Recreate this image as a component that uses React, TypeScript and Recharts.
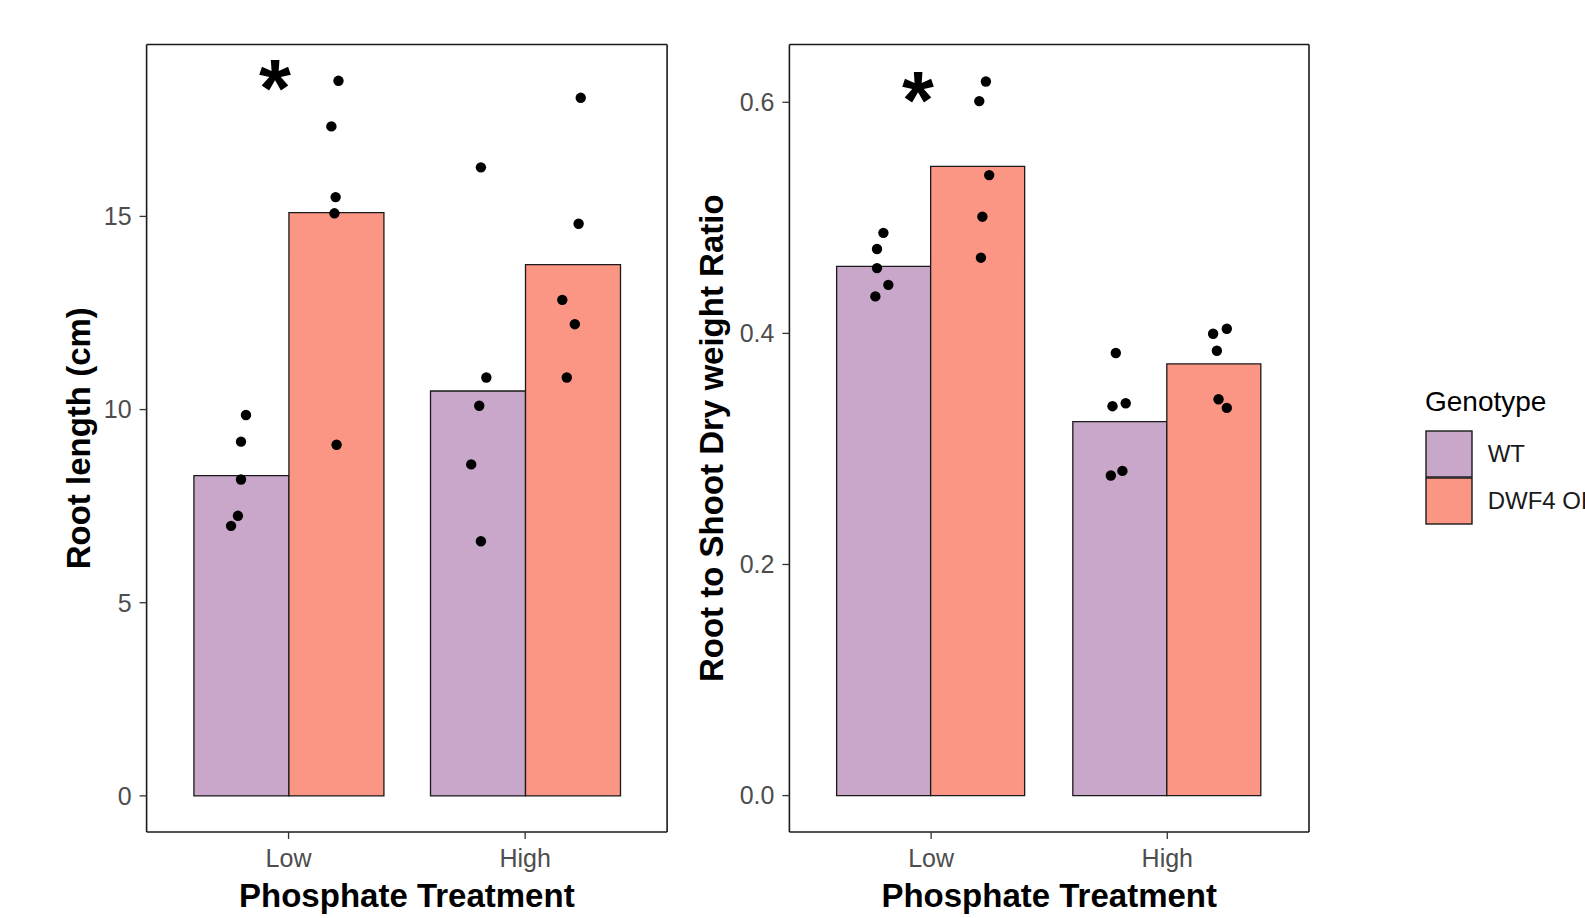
import React from 'react';
import { ComposedChart, Bar, Scatter, XAxis, YAxis, Label } from 'recharts';

const FONT = '"Liberation Sans", Arial, Helvetica, sans-serif';

// ---------- categories ----------
const treatments = ['Low', 'High'];
const genotypes = ['WT', 'DWF4 OE'];
const genotypeColors = ['#C9A7CB', '#FB9584'];

// ---------- bar heights (means) ----------
const rootMeanWT = [8.29, 10.48];
const rootMeanOE = [15.1, 13.75];
const ratioMeanWT = [0.458, 0.3237];
const ratioMeanOE = [0.5445, 0.3737];

// ---------- individual points (value, horizontal jitter in category units) ----------
const rootLowWT = [9.86, 9.17, 8.19, 7.25, 6.99];
const rootLowWTJit = [-0.18, -0.201, -0.201, -0.214, -0.243];
const rootLowOE = [18.51, 17.33, 15.5, 15.08, 9.09];
const rootLowOEJit = [0.211, 0.181, 0.199, 0.194, 0.203];
const rootHighWT = [16.27, 10.83, 10.1, 8.58, 6.59];
const rootHighWTJit = [-0.187, -0.164, -0.194, -0.228, -0.187];
const rootHighOE = [18.07, 14.81, 12.84, 12.21, 10.83];
const rootHighOEJit = [0.235, 0.226, 0.157, 0.21, 0.176];

const ratioLowWT = [0.487, 0.473, 0.4565, 0.442, 0.432];
const ratioLowWTJit = [-0.202, -0.229, -0.229, -0.181, -0.236];
const ratioLowOE = [0.618, 0.601, 0.537, 0.501, 0.4655];
const ratioLowOEJit = [0.232, 0.204, 0.246, 0.217, 0.211];
const ratioHighWT = [0.383, 0.337, 0.3395, 0.277, 0.281];
const ratioHighWTJit = [-0.218, -0.232, -0.176, -0.239, -0.19];
const ratioHighOE = [0.3997, 0.404, 0.385, 0.343, 0.3355];
const ratioHighOEJit = [0.194, 0.252, 0.21, 0.217, 0.252];

// significance marks (category position, value)
const rootStar = { x: 0.943, y: 18.64 };
const ratioStar = { x: 0.944, y: 0.6126 };

// ---------- axis ticks ----------
const rootTicks = [0, 5, 10, 15];
const ratioTicks = [0, 0.2, 0.4, 0.6];
const rootDomain = [-0.935, 19.45];
const ratioDomain = [-0.0315, 0.65];

const buildBars = (wt: number[], oe: number[]) =>
  treatments.map((t, i) => ({ cat: t, WT: wt[i], OE: oe[i] }));

const buildPoints = (groups: [number[], number[], number][]) => {
  const out: { x: number; y: number }[] = [];
  groups.forEach(([vals, jit, idx]) => {
    vals.forEach((v, k) => out.push({ x: idx + jit[k], y: v }));
  });
  return out;
};

const rootBars = buildBars(rootMeanWT, rootMeanOE);
const ratioBars = buildBars(ratioMeanWT, ratioMeanOE);
const rootPoints = buildPoints([
  [rootLowWT, rootLowWTJit, 1],
  [rootLowOE, rootLowOEJit, 1],
  [rootHighWT, rootHighWTJit, 2],
  [rootHighOE, rootHighOEJit, 2],
]);
const ratioPoints = buildPoints([
  [ratioLowWT, ratioLowWTJit, 1],
  [ratioLowOE, ratioLowOEJit, 1],
  [ratioHighWT, ratioHighWTJit, 2],
  [ratioHighOE, ratioHighOEJit, 2],
]);

const BORDER = { stroke: '#1a1a1a', strokeWidth: 1.6 };
const TICKLINE = { stroke: '#333', strokeWidth: 1.3 };
const TICKTEXT = { fill: '#4d4d4d', fontSize: 25, fontFamily: FONT };

const Dot = (p: any) => <circle cx={p.cx} cy={p.cy} r={5.2} fill="#000" />;
const Star = (p: any) => (
  <text
    x={p.cx}
    y={p.cy}
    dy="0.49em"
    textAnchor="middle"
    fontSize={82}
    fontWeight="bold"
    fontFamily={FONT}
    fill="#000"
  >
    *
  </text>
);

function Panel(props: any) {
  const {
    left, width, bars, points, star, domain, ticks, fmt, yTitle, yAxisWidth,
    rightMargin, pad, yTitleX,
  } = props;
  const yTitleContent = (lp: any) => {
    const vb = lp.viewBox || { x: 0, y: 44.5, width: yAxisWidth, height: 787.5 };
    const cx = vb.x + yTitleX;
    const cy = vb.y + vb.height / 2;
    return (
      <text
        x={cx}
        y={cy}
        transform={`rotate(-90 ${cx} ${cy})`}
        textAnchor="middle"
        fontSize={33}
        fontWeight="bold"
        fontFamily={FONT}
        fill="#000"
      >
        {yTitle}
      </text>
    );
  };
  const xTitleContent = (lp: any) => {
    const vb = lp.viewBox || { x: yAxisWidth, y: 832, width: 520, height: 86 };
    return (
      <text
        x={vb.x + vb.width / 2}
        y={vb.y + 75}
        textAnchor="middle"
        fontSize={33}
        fontWeight="bold"
        fontFamily={FONT}
        fill="#000"
      >
        Phosphate Treatment
      </text>
    );
  };
  return (
    <div style={{ position: 'absolute', left, top: 0 }}>
      <ComposedChart
        width={width}
        height={918}
        data={bars}
        margin={{ top: 43.5, right: rightMargin - 1, bottom: 0, left: 0 }}
        barCategoryGap="10%"
        barGap={0}
      >
        <XAxis
          xAxisId="cat"
          dataKey="cat"
          type="category"
          height={86}
          padding={{ left: pad, right: pad }}
          axisLine={BORDER}
          tickLine={TICKLINE}
          tickSize={7}
          tickMargin={10}
          tick={TICKTEXT}
          interval={0}
        >
          <Label content={xTitleContent} />
        </XAxis>
        <XAxis
          xAxisId="num"
          dataKey="x"
          type="number"
          orientation="top"
          domain={[0.4, 2.6]}
          allowDataOverflow
          height={1}
          tick={false}
          tickLine={false}
          axisLine={BORDER}
        />
        <YAxis
          yAxisId="bar"
          type="number"
          domain={domain}
          allowDataOverflow
          ticks={ticks}
          tickFormatter={fmt}
          width={yAxisWidth}
          axisLine={BORDER}
          tickLine={TICKLINE}
          tickSize={7}
          tickMargin={8}
          tick={TICKTEXT}
          interval={0}
        >
          <Label content={yTitleContent} />
        </YAxis>
        <YAxis
          yAxisId="pts"
          dataKey="y"
          type="number"
          orientation="right"
          domain={domain}
          allowDataOverflow
          width={1}
          tick={false}
          tickLine={false}
          axisLine={BORDER}
        />
        <Bar
          xAxisId="cat"
          yAxisId="bar"
          dataKey="WT"
          name={genotypes[0]}
          fill={genotypeColors[0]}
          stroke="#1a1a1a"
          strokeWidth={1.3}
          isAnimationActive={false}
        />
        <Bar
          xAxisId="cat"
          yAxisId="bar"
          dataKey="OE"
          name={genotypes[1]}
          fill={genotypeColors[1]}
          stroke="#1a1a1a"
          strokeWidth={1.3}
          isAnimationActive={false}
        />
        <Scatter
          xAxisId="num"
          yAxisId="pts"
          data={points}
          shape={Dot}
          isAnimationActive={false}
        />
        <Scatter
          xAxisId="num"
          yAxisId="pts"
          data={[star]}
          shape={Star}
          isAnimationActive={false}
        />
      </ComposedChart>
    </div>
  );
}

function GenotypeLegend() {
  return (
    <svg
      style={{ position: 'absolute', left: 1390, top: 370 }}
      width={195}
      height={170}
    >
      <text x={35} y={41} fontSize={28} fontFamily={FONT} fill="#000">
        Genotype
      </text>
      {genotypes.map((g, i) => (
        <g key={g}>
          <rect
            x={36}
            y={61 + i * 47}
            width={46}
            height={46}
            fill={genotypeColors[i]}
            stroke="#1a1a1a"
            strokeWidth={1.4}
          />
          <text
            x={97.7}
            y={61 + i * 47 + 23}
            dy="0.35em"
            fontSize={24}
            fontFamily={FONT}
            fill="#1a1a1a"
          >
            {g}
          </text>
        </g>
      ))}
    </svg>
  );
}

export default function App() {
  return (
    <div
      style={{
        position: 'absolute',
        left: 0,
        top: 0,
        width: 1585,
        height: 918,
        overflow: 'hidden',
        background: '#fff',
        fontFamily: FONT,
      }}
    >
      <Panel
        left={0}
        width={680}
        bars={rootBars}
        points={rootPoints}
        star={rootStar}
        domain={rootDomain}
        ticks={rootTicks}
        fmt={(v: number) => String(v)}
        yTitle="Root length (cm)"
        yAxisWidth={146.6}
        rightMargin={12.9}
        pad={23.66}
        yTitleX={89.5}
      />
      <Panel
        left={680}
        width={660}
        bars={ratioBars}
        points={ratioPoints}
        star={ratioStar}
        domain={ratioDomain}
        ticks={ratioTicks}
        fmt={(v: number) => v.toFixed(1)}
        yTitle="Root to Shoot Dry weight Ratio"
        yAxisWidth={109.4}
        rightMargin={31}
        pad={23.62}
        yTitleX={42.5}
      />
      <GenotypeLegend />
    </div>
  );
}
